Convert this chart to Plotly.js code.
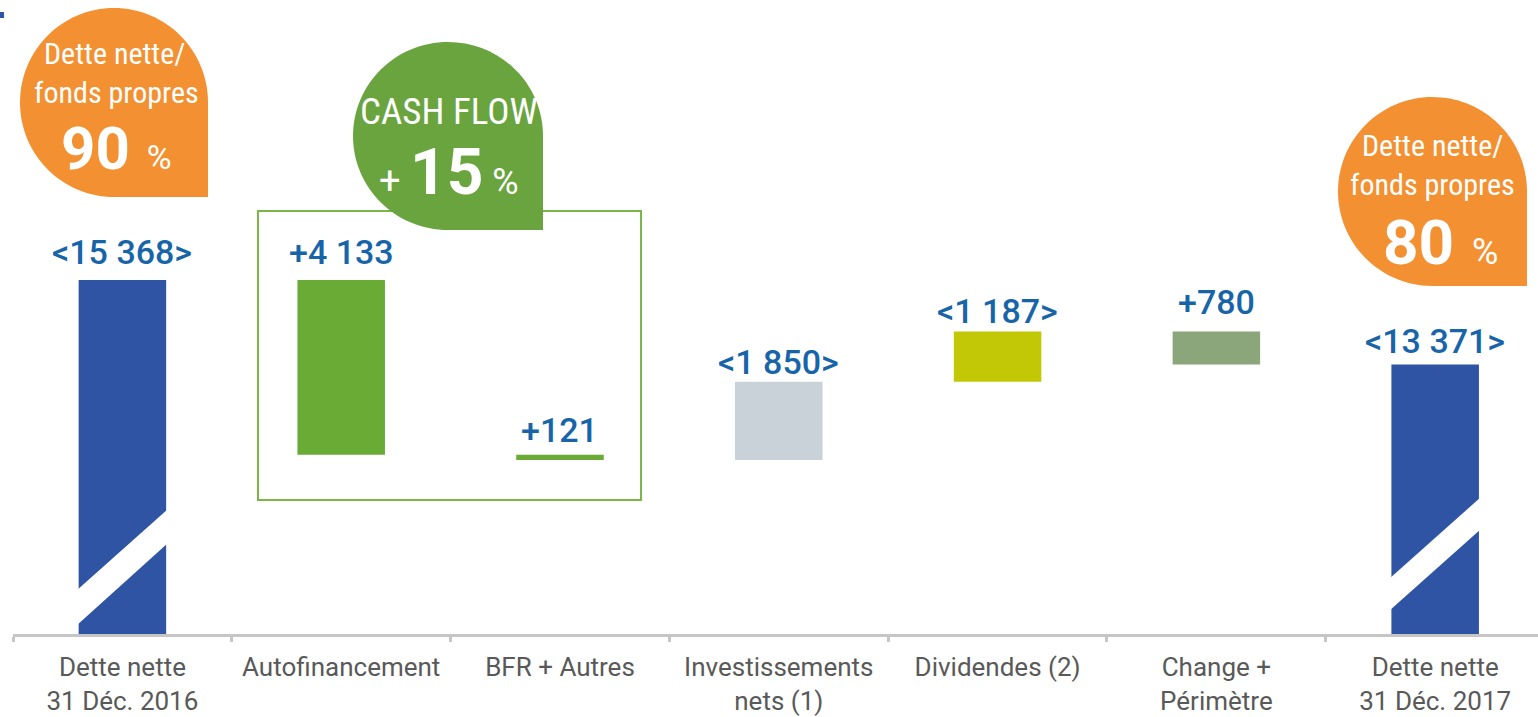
<!DOCTYPE html>
<html>
<head>
<meta charset="utf-8">
<script src="https://cdn.plot.ly/plotly-3.0.1.min.js"></script>
<style>
  html, body { margin: 0; padding: 0; background: #ffffff; }
  #chart { width: 1538px; height: 717px; }
</style>
</head>
<body>
<div id="chart"></div>
<script>
// ---------------- DATA ----------------
const categories = [
  "Dette nette<br>31 Déc. 2016",
  "Autofinancement",
  "BFR + Autres",
  "Investissements<br>nets (1)",
  "Dividendes (2)",
  "Change +<br>Périmètre",
  "Dette nette<br>31 Déc. 2017"
];
// 'total' = net debt level, 'delta' = change of net debt (M€)
const kinds   = ["total", "delta", "delta", "delta", "delta", "delta", "total"];
const amounts = [15368, -4133, -121, 1850, 1187, -780, 13371];

const ratioStart = 90;   // Dette nette / fonds propres, 31 Déc. 2016 (%)
const ratioEnd   = 80;   // Dette nette / fonds propres, 31 Déc. 2017 (%)
const cashFlowGrowth = 15; // CASH FLOW (%)

// ---------------- STYLE ----------------
const barColors = ["#2f54a3", "#69ab35", "#69ab35", "#c9d1d9", "#c2c806", "#8aa67a", "#2f54a3"];
const labelGap  = [18, 18, 15, 10, 10, 19, 13];   // px from bar top to label baseline
const AXIS_FLOOR = 7000;   // broken axis floor
const W = 1538, H = 717;
const M = {l: 13, r: 0, t: 0, b: 83};
const PW = W - M.l - M.r, PH = H - M.t - M.b;
const PX_PER_UNIT = 0.042304;
const yTop = AXIS_FLOOR + PH / PX_PER_UNIT;
const xRange = [-0.5, 6.47];

const px = x => (x - M.l) / PW;          // pixel -> paper x
const py = y => (M.t + PH - y) / PH;     // pixel -> paper y

// ---------------- BARS ----------------
const bases = [], heights = [], tops = [], labels = [];
let level = 0;
const fmt = v => Math.abs(v).toString().replace(/\B(?=(\d{3})+(?!\d))/g, " ");
kinds.forEach((k, i) => {
  const a = amounts[i];
  if (k === "total") {
    level = a;
    bases.push(AXIS_FLOOR); heights.push(a - AXIS_FLOOR); tops.push(a);
    labels.push("&lt;" + fmt(a) + "&gt;");
  } else {
    const lo = Math.min(level, level + a), hi = Math.max(level, level + a);
    bases.push(lo); heights.push(hi - lo); tops.push(hi);
    level += a;
    labels.push(a < 0 ? "+" + fmt(a) : "&lt;" + fmt(a) + "&gt;");
  }
});

const trace = {
  type: "bar",
  x: categories,
  y: heights,
  base: bases,
  width: 0.4,
  marker: {color: barColors, line: {width: 0}},
  hoverinfo: "skip",
  showlegend: false
};

// ---------------- SHAPES ----------------
function teardrop(x0, y0, x1, y1, color) {
  const k = 0.5523;
  const rx = (x1 - x0) / 2, ry = (y1 - y0) / 2, cx = x0 + rx, cy = y0 + ry;
  const P = (x, y) => px(x).toFixed(5) + "," + py(y).toFixed(5);
  const path =
    "M" + P(x0, cy) +
    " C" + P(x0, cy - k * ry) + " " + P(cx - k * rx, y0) + " " + P(cx, y0) +
    " C" + P(cx + k * rx, y0) + " " + P(x1, cy - k * ry) + " " + P(x1, cy) +
    " L" + P(x1, y1) +
    " L" + P(cx, y1) +
    " C" + P(cx - k * rx, y1) + " " + P(x0, cy + k * ry) + " " + P(x0, cy) + " Z";
  return {type: "path", xref: "paper", yref: "paper", path: path,
          fillcolor: color, line: {width: 0}, layer: "above"};
}
function stripe(xl, xr, yl1, yr1, yr2, yl2) {
  const P = (x, y) => px(x).toFixed(5) + "," + py(y).toFixed(5);
  return {type: "path", xref: "paper", yref: "paper",
          path: "M" + P(xl, yl1) + " L" + P(xr, yr1) + " L" + P(xr, yr2) + " L" + P(xl, yl2) + " Z",
          fillcolor: "#ffffff", line: {width: 0}, layer: "above"};
}

const shapes = [
  // cash-flow frame
  {type: "rect", xref: "paper", yref: "paper", x0: px(258), x1: px(641), y0: py(500), y1: py(211),
   line: {color: "#7ab648", width: 2}, fillcolor: "rgba(0,0,0,0)", layer: "above"},
  // axis-break stripes
  stripe(76, 168, 591, 509, 543, 626),
  stripe(1389, 1481, 579, 497, 529, 611),
  // callouts
  teardrop(20, 8, 208, 197, "#f39031"),
  teardrop(353, 42, 543, 230, "#69a43e"),
  teardrop(1338, 97, 1527, 286, "#f39031"),
  // small corner mark
  {type: "rect", xref: "paper", yref: "paper", x0: px(0), x1: px(4), y0: py(18), y1: py(12),
   fillcolor: "#2f54a3", line: {width: 0}, layer: "above"}
];

// ---------------- ANNOTATIONS ----------------
const labelFont = {family: "Roboto, 'Liberation Sans', sans-serif", size: 34, color: "#1765a8", weight: 500};
const annotations = labels.map((t, i) => ({
  x: categories[i], y: tops[i], xref: "x", yref: "y",
  text: t, showarrow: false, xanchor: "center", yanchor: "bottom",
  yshift: labelGap[i] - 12, font: labelFont
}));

const cFont = (s, w) => ({family: "'Liberation Sans Narrow', 'Roboto Condensed', Roboto, sans-serif",
                          size: s, color: "#ffffff", weight: w || 400});
function cText(x, y, text, font) {
  return {xref: "paper", yref: "paper", x: px(x), y: py(y), text: text, showarrow: false,
          xanchor: "center", yanchor: "middle", font: font};
}
annotations.push(
  cText(114, 53, "Dette nette/", cFont(30)),
  cText(116, 93, "fonds propres", cFont(30)),
  cText(116, 148, "<b>" + ratioStart + "</b><span style='font-size:34px;font-weight:400'>  %</span>",
        {family: "Roboto, sans-serif", size: 60, color: "#ffffff"}),
  cText(449, 111, "CASH FLOW", cFont(37)),
  cText(449, 172, "<span style='font-size:38px'>+ </span><b>" + cashFlowGrowth + "</b><span style='font-size:36px'> %</span>",
        {family: "Roboto, sans-serif", size: 64, color: "#ffffff"}),
  cText(1432, 145, "Dette nette/", cFont(30)),
  cText(1432, 185, "fonds propres", cFont(30)),
  cText(1440, 243, "<b>" + ratioEnd + "</b><span style='font-size:36px'>  %</span>",
        {family: "Roboto, sans-serif", size: 62, color: "#ffffff"})
);

const layout = {
  width: W, height: H,
  margin: M,
  paper_bgcolor: "#ffffff", plot_bgcolor: "#ffffff",
  bargap: 0.6,
  xaxis: {
    type: "category",
    range: xRange,
    showgrid: false, zeroline: false,
    showline: true, linecolor: "#c6c6c6", linewidth: 3,
    ticks: "outside", tickson: "boundaries", ticklen: 5, tickwidth: 3, tickcolor: "#c6c6c6",
    tickfont: {family: "Roboto, sans-serif", size: 26, color: "#595959"},
    ticklabelstandoff: 8,
    fixedrange: true
  },
  yaxis: {range: [AXIS_FLOOR, yTop], visible: false, showgrid: false, zeroline: false, fixedrange: true},
  shapes: shapes,
  annotations: annotations,
  showlegend: false
};

Plotly.newPlot("chart", [trace], layout, {displayModeBar: false, staticPlot: true});
</script>
</body>
</html>
